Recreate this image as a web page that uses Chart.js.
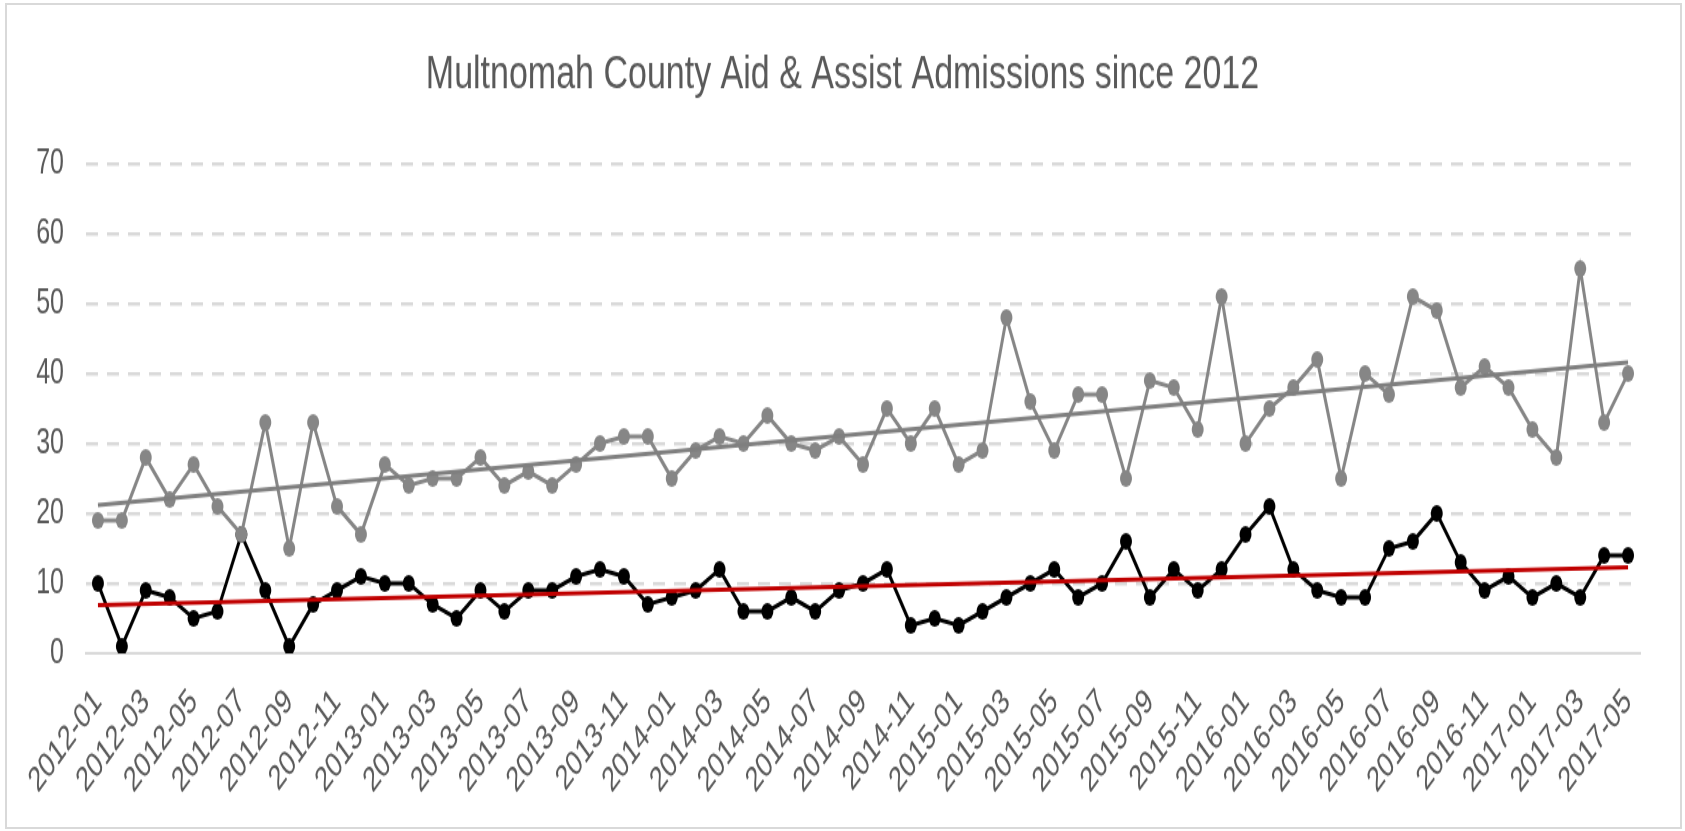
<!DOCTYPE html>
<html>
<head>
<meta charset="utf-8">
<script src="https://cdn.jsdelivr.net/npm/chart.js@4"></script>
<style>
  html, body { margin: 0; padding: 0; background: #fff; }
  #page { position: relative; width: 1685px; height: 831px; overflow: hidden; }
  /* the original picture is stretched vertically, so the chart is drawn short and scaled */
  #wrap { position: absolute; left: 0; top: 0; width: 1685px; height: 594px;
          transform: scaleY(1.399); transform-origin: 0 0; }
  #frame { position: absolute; left: 5px; top: 3px; width: 1677px; height: 826px;
           box-sizing: border-box; border: 2px solid #d9d9d9; pointer-events: none; }
</style>
</head>
<body>
<div id="page">
  <div id="wrap"><canvas id="chart"></canvas></div>
  <div id="frame"></div>
</div>
<script>
const months = [
  '2012-01','2012-02','2012-03','2012-04','2012-05','2012-06','2012-07','2012-08','2012-09','2012-10','2012-11','2012-12',
  '2013-01','2013-02','2013-03','2013-04','2013-05','2013-06','2013-07','2013-08','2013-09','2013-10','2013-11','2013-12',
  '2014-01','2014-02','2014-03','2014-04','2014-05','2014-06','2014-07','2014-08','2014-09','2014-10','2014-11','2014-12',
  '2015-01','2015-02','2015-03','2015-04','2015-05','2015-06','2015-07','2015-08','2015-09','2015-10','2015-11','2015-12',
  '2016-01','2016-02','2016-03','2016-04','2016-05','2016-06','2016-07','2016-08','2016-09','2016-10','2016-11','2016-12',
  '2017-01','2017-02','2017-03','2017-04','2017-05'
];

// grey series (upper)
const upperSeries = [
  19, 19, 28, 22, 27, 21, 17, 33, 15, 33, 21, 17,
  27, 24, 25, 25, 28, 24, 26, 24, 27, 30, 31, 31,
  25, 29, 31, 30, 34, 30, 29, 31, 27, 35, 30, 35,
  27, 29, 48, 36, 29, 37, 37, 25, 39, 38, 32, 51,
  30, 35, 38, 42, 25, 40, 37, 51, 49, 38, 41, 38,
  32, 28, 55, 33, 40
];

// black series (lower)
const lowerSeries = [
  10, 1, 9, 8, 5, 6, 17, 9, 1, 7, 9, 11,
  10, 10, 7, 5, 9, 6, 9, 9, 11, 12, 11, 7,
  8, 9, 12, 6, 6, 8, 6, 9, 10, 12, 4, 5,
  4, 6, 8, 10, 12, 8, 10, 16, 8, 12, 9, 12,
  17, 21, 12, 9, 8, 8, 15, 16, 20, 13, 9, 11,
  8, 10, 8, 14, 14
];

// trend line ends (first month, last month)
const upperTrend = [21.2, 41.6];
const lowerTrend = [6.9, 12.3];

const yTicks = [0, 10, 20, 30, 40, 50, 60, 70];

const first = months[0];
const last = months[months.length - 1];
const font = "'Liberation Sans', Arial, sans-serif";

new Chart(document.getElementById('chart'), {
  type: 'line',
  data: {
    labels: months,
    datasets: [
      {
        data: [{ x: first, y: lowerTrend[0] }, { x: last, y: lowerTrend[1] }],
        borderColor: '#c00000',
        borderWidth: 3,
        pointRadius: 0,
        order: 0
      },
      {
        data: [{ x: first, y: upperTrend[0] }, { x: last, y: upperTrend[1] }],
        borderColor: '#7f7f7f',
        borderWidth: 2.8,
        pointRadius: 0,
        order: 0
      },
      {
        data: upperSeries,
        borderColor: '#868686',
        backgroundColor: '#868686',
        borderWidth: 3,
        pointRadius: 6,
        pointBorderWidth: 0,
        tension: 0,
        order: 1
      },
      {
        data: lowerSeries,
        borderColor: '#000000',
        backgroundColor: '#000000',
        borderWidth: 3,
        pointRadius: 6,
        pointBorderWidth: 0,
        tension: 0,
        order: 2
      }
    ]
  },
  options: {
    responsive: true,
    maintainAspectRatio: false,
    animation: false,
    layout: { padding: { left: 10, right: 10, top: 0, bottom: 7 } },
    plugins: {
      legend: { display: false },
      tooltip: { enabled: false },
      title: {
        display: true,
        text: 'Multnomah County Aid & Assist Admissions since 2012',
        color: '#595959',
        font: { family: font, size: 34, weight: 'normal', lineHeight: 1.2 },
        padding: { top: 33.6, bottom: 42.6 }
      }
    },
    scales: {
      x: {
        offset: true,
        grid: { display: false },
        border: { display: true, color: '#d9d9d9', width: 2 },
        ticks: {
          autoSkip: false,
          minRotation: 45,
          maxRotation: 45,
          padding: 12,
          color: '#595959',
          font: { family: font, size: 25 },
          callback: (v, i) => (i % 2 === 0 ? months[i] : null)
        },
        afterFit: (scale) => { scale.height = 120; }
      },
      y: {
        min: 0,
        max: 70,
        afterBuildTicks: (scale) => { scale.ticks = yTicks.map(v => ({ value: v })); },
        grid: {
          color: (c) => (c.tick && c.tick.value === 0 ? 'rgba(0,0,0,0)' : '#d9d9d9'),
          lineWidth: 2.5,
          drawTicks: false
        },
        border: { display: false, dash: [12, 9] },
        ticks: {
          padding: 22,
          color: '#595959',
          font: { family: font, size: 25 }
        },
        afterFit: (scale) => { scale.width = 76; }
      },
      // empty right-hand strip, only there to leave the right margin
      yRight: {
        position: 'right',
        min: 0,
        max: 70,
        grid: { display: false },
        border: { display: false },
        ticks: { display: false },
        afterFit: (scale) => { scale.width = 35; }
      }
    }
  }
});
</script>
</body>
</html>
